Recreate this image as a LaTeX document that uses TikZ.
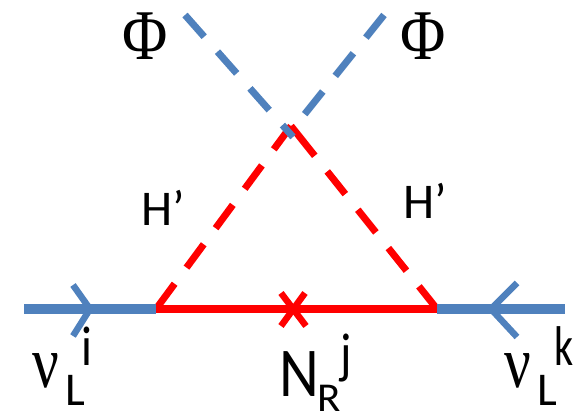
\documentclass[tikz,border=0pt]{standalone}
\usepackage{fontspec}
\setmainfont{Carlito}
\newfontfamily\serifgk{Liberation Serif}
\definecolor{lineblue}{HTML}{4F81BD}
\definecolor{linered}{HTML}{FF0000}
\newcommand{\stretchxy}[3]{\scalebox{#1}[#2]{#3}}
\tikzset{
  bluesolid/.style={draw=lineblue,line width=9.5pt},
  redsolid/.style={draw=linered,line width=8.5pt},
  bluedash/.style={draw=lineblue,line width=7pt,dash pattern=on 29pt off 20pt},
  reddash/.style={draw=linered,line width=7pt,dash pattern=on 29pt off 20pt},
  arrowstroke/.style={draw=lineblue,line width=6.5pt},
  crossstroke/.style={draw=linered,line width=6.5pt},
  lbl/.style={inner sep=0pt,anchor=base west,text=black},
  phi/.style={inner sep=0pt,anchor=center,font=\serifgk\fontsize{62}{62}\selectfont},
  hprime/.style={lbl,font=\fontsize{50}{50}\selectfont},
  nu/.style={lbl,font=\serifgk\fontsize{74}{74}\selectfont},
  big/.style={lbl,font=\fontsize{70}{70}\selectfont},
  sub/.style={lbl,font=\fontsize{47}{47}\selectfont},
  sup/.style={lbl,font=\fontsize{56}{56}\selectfont}
}
\begin{document}
\begin{tikzpicture}[x=1pt,y=-1pt]
\useasboundingbox (0,0) rectangle (577,412);
% vertices
\coordinate (top) at (291,126);
\coordinate (vl) at (156,309);
\coordinate (vr) at (437,309);
\coordinate (inl) at (24,309);
\coordinate (inr) at (565,309);
\coordinate (phil) at (185,15);
\coordinate (phic) at (293,137);
\coordinate (phir) at (384,15);
\coordinate (phire) at (304,115);
% red dashed scalars
\draw[reddash] (top) -- (vl);
\draw[reddash,dash pattern=on 29pt off 20pt on 29pt off 20pt on 29pt off 20pt on 29pt off 20pt on 50pt off 20pt] (vr) -- (top);
% fermion lines
\draw[bluesolid] (inl) -- (vl);
\draw[bluesolid] (vr) -- (inr);
\draw[redsolid] (vl) -- (vr);
% arrows
\coordinate (al1) at (73,285);\coordinate (al2) at (90,309);\coordinate (al3) at (73,336);
\coordinate (ar1) at (517,283);\coordinate (ar2) at (491,309);\coordinate (ar3) at (517,337);
\draw[arrowstroke,miter limit=10] (al1) -- (al2) -- (al3);
\draw[arrowstroke,miter limit=10] (ar1) -- (ar2) -- (ar3);
% mass insertion
\coordinate (c1) at (281,293);\coordinate (c2) at (306,326);
\coordinate (c3) at (305,293);\coordinate (c4) at (281,326);
\draw[crossstroke] (c1) -- (c2);
\draw[crossstroke] (c3) -- (c4);
% blue dashed scalars
\draw[bluedash] (phil) -- (phic);
\draw[bluedash] (phir) -- (phire);
% labels
\node[phi] (p1) at (145,36) {\stretchxy{1}{1.15}{Φ}};
\node[phi] (p2) at (423,36) {\stretchxy{1}{1.15}{Φ}};
\node[hprime] (h1) at (141,225) {H’};
\node[hprime] (h2) at (403,218) {H’};
\node[nu] (nu1) at (32,387) {\stretchxy{0.8}{1}{ν}};
\node[sub] (l1) at (65,405) {L};
\node[sup] (i1) at (81,365) {\stretchxy{0.85}{1}{i}};
\node[big] (n1) at (279,396) {\stretchxy{0.88}{1}{N}};
\node[lbl,font=\fontsize{41}{41}\selectfont] (r1) at (317,411) {\stretchxy{1.05}{1}{R}};
\node[sup] (j1) at (340,372) {\stretchxy{0.85}{1}{j}};
\node[nu] (nu2) at (504,387) {\stretchxy{0.8}{1}{ν}};
\node[sub] (l2) at (537,405) {L};
\node[sup] (k1) at (554,365) {\stretchxy{0.75}{1}{k}};
\end{tikzpicture}
\end{document}
